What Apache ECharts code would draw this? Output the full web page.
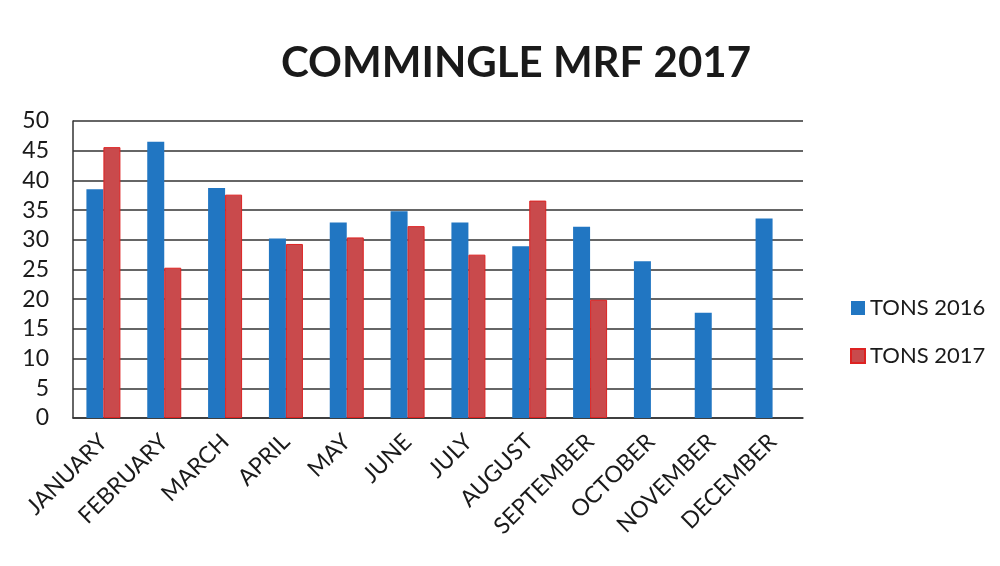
<!DOCTYPE html>
<html><head><meta charset="utf-8">
<script src="https://cdn.jsdelivr.net/npm/echarts@6/dist/echarts.min.js"></script>
<style>html,body{margin:0;padding:0;background:#fff}#c{width:1000px;height:566px}</style>
</head><body><div id="c"></div>
<script>
const categories = ['JANUARY','FEBRUARY','MARCH','APRIL','MAY','JUNE','JULY','AUGUST','SEPTEMBER','OCTOBER','NOVEMBER','DECEMBER'];
const tons2016 = [38.5, 46.5, 38.7, 30.2, 32.9, 34.8, 32.9, 28.9, 32.2, 26.4, 17.7, 33.6];
const tons2017 = [45.6, 25.3, 37.6, 29.3, 30.4, 32.3, 27.5, 36.6, 19.9, null, null, null];
const chart = echarts.init(document.getElementById('c'));
const F = 'Lato, "Open Sans", sans-serif';
chart.setOption({
  animation: false,
  backgroundColor: '#fff',
  title: { text: 'COMMINGLE MRF 2017', left: 511, top: 37, textAlign: 'center',
    textStyle: { fontFamily: F, fontWeight: 'bold', fontSize: 42, color: '#1a1a1a' } },
  legend: { orient: 'vertical', left: 845, top: 292, itemGap: 26, itemWidth: 14, itemHeight: 14,
    icon: 'rect', textStyle: { fontFamily: F, fontSize: 22, color: '#1a1a1a' },
    data: ['TONS 2016', 'TONS 2017'] },
  grid: { left: 73, right: 197, top: 121, bottom: 148 },
  xAxis: { type: 'category', data: categories,
    axisLine: { lineStyle: { color: '#333', width: 1.5 } },
    axisTick: { show: false },
    axisLabel: { rotate: 45, interval: 0, fontFamily: F, fontSize: 23, color: '#1a1a1a', margin: 20 } },
  yAxis: { type: 'value', min: 0, max: 50, interval: 5,
    axisLine: { show: true, lineStyle: { color: '#333', width: 1.5 } },
    axisTick: { show: false },
    splitLine: { lineStyle: { color: '#333', width: 1.5 } },
    axisLabel: { fontFamily: F, fontSize: 23, color: '#1a1a1a', margin: 24 } },
  series: [
    { name: 'TONS 2016', type: 'bar', data: tons2016, barWidth: 17, barGap: '0%',
      itemStyle: { color: '#2176c2' } },
    { name: 'TONS 2017', type: 'bar', data: tons2017, barWidth: 17,
      itemStyle: { color: '#c94a4c', borderColor: '#dd2222', borderWidth: 1 } }
  ]
});
</script></body></html>
